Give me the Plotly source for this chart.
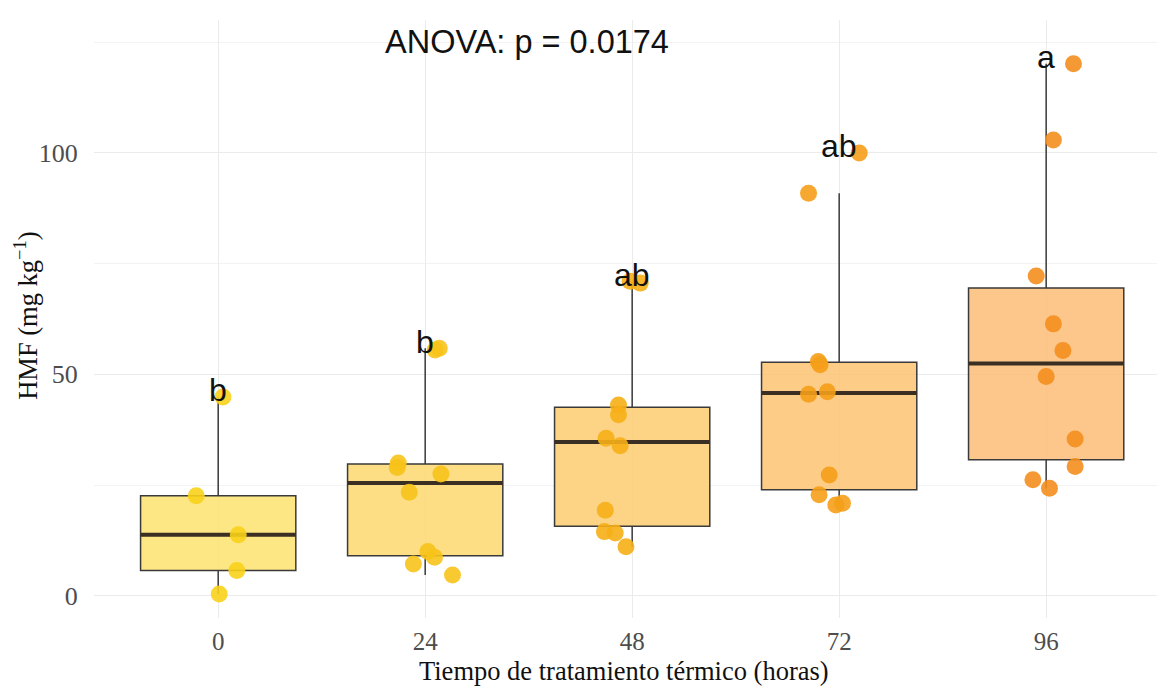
import numpy as np
import plotly.graph_objects as go

# ---- data ----
categories = ["0", "24", "48", "72", "96"]
hmf_0 = [44.9, 22.6, 13.8, 5.7, 0.4]
hmf_24 = [55.5, 55.9, 30.0, 29.0, 27.5, 23.4, 10.0, 8.7, 7.2, 4.7]
hmf_48 = [71.0, 70.6, 43.1, 40.9, 35.6, 33.9, 19.3, 14.5, 14.2, 11.1]
hmf_72 = [100.0, 90.9, 52.9, 52.2, 45.5, 46.1, 27.3, 22.8, 20.5, 20.9]
hmf_96 = [120.1, 102.9, 72.2, 61.4, 55.4, 49.5, 35.4, 29.2, 26.2, 24.3]
# horizontal jitter (category units)
jit_0 = [0.023, -0.106, 0.097, 0.090, 0.005]
jit_24 = [0.048, 0.068, -0.130, -0.135, 0.076, -0.077, 0.013, 0.045, -0.057, 0.132]
jit_48 = [-0.010, 0.039, -0.066, -0.066, -0.126, -0.058, -0.130, -0.134, -0.082, -0.030]
jit_72 = [0.097, -0.148, -0.101, -0.092, -0.148, -0.057, -0.048, -0.097, -0.016, 0.016]
jit_96 = [0.132, 0.035, -0.048, 0.035, 0.081, 0.0, 0.140, 0.140, -0.064, 0.016]
letters = ["b", "b", "ab", "ab", "a"]
anova_text = "ANOVA: p = 0.0174"
x_title = "Tiempo de tratamiento térmico (horas)"
y_title = "HMF (mg kg<sup>−1</sup>)"

groups = [hmf_0, hmf_24, hmf_48, hmf_72, hmf_96]
jitters = [jit_0, jit_24, jit_48, jit_72, jit_96]

box_fill = ["rgba(253,226,110,0.85)", "rgba(253,216,112,0.85)", "rgba(253,205,112,0.85)",
            "rgba(253,196,115,0.85)", "rgba(253,188,118,0.85)"]
pt_color = ["#F8D21A", "#F7C319", "#F6AF16", "#F59F1A", "#F48E1E"]

fig = go.Figure()
halfw = 0.375
for i, vals in enumerate(groups):
    v = np.array(vals)
    q1, med, q3 = np.percentile(v, [25, 50, 75])
    iqr = q3 - q1
    lo = v[v >= q1 - 1.5 * iqr].min()
    hi = v[v <= q3 + 1.5 * iqr].max()
    fig.add_trace(go.Box(
        x=[i], q1=[q1], median=[med], q3=[q3], lowerfence=[lo], upperfence=[hi],
        fillcolor=box_fill[i], line=dict(color="#3a3a3a", width=1.5),
        whiskerwidth=0, width=2 * halfw, boxpoints=False, showlegend=False,
        hoverinfo="skip"))
    fig.add_trace(go.Scatter(
        x=[i - halfw, i + halfw], y=[med, med], mode="lines",
        line=dict(color="#3b2e22", width=4), showlegend=False, hoverinfo="skip"))

for i, vals in enumerate(groups):
    xs = [i + j for j in jitters[i]]
    fig.add_trace(go.Scatter(
        x=xs, y=vals, mode="markers",
        marker=dict(size=17, color=pt_color[i], opacity=0.9, line=dict(width=0)),
        showlegend=False))

for i, vals in enumerate(groups):
    fig.add_annotation(x=i, y=max(vals) + 1.5, text=letters[i], showarrow=False,
                       font=dict(family="Liberation Sans, Arial", size=32, color="#111111"),
                       yanchor="middle")

fig.add_annotation(x=1.49, y=125.1, text=anova_text, showarrow=False,
                   font=dict(family="Liberation Sans, Arial", size=32.5, color="#111111"),
                   yanchor="middle", xanchor="center")

# axis titles
fig.add_annotation(x=0.497, y=-0.088, xref="paper", yref="paper", text=x_title,
                   showarrow=False, xanchor="center", yanchor="middle",
                   font=dict(family="Liberation Serif, Times New Roman", size=26.5, color="#111111"))
fig.add_annotation(x=-0.064, y=0.505, xref="paper", yref="paper", text=y_title,
                   showarrow=False, xanchor="center", yanchor="middle", textangle=-90,
                   font=dict(family="Liberation Serif, Times New Roman", size=26.5, color="#111111"))

fig.update_layout(
    width=1157, height=681,
    margin=dict(l=86, r=5, t=12, b=71),
    paper_bgcolor="white", plot_bgcolor="white",
    font=dict(family="Liberation Serif, Times New Roman", color="#4d4d4d"),
    xaxis=dict(
        tickmode="array", tickvals=list(range(5)), ticktext=categories,
        range=[-0.6, 4.55], showgrid=True, gridcolor="#ebebeb", gridwidth=1,
        zeroline=False, showline=False, automargin=False,
        ticks="outside", ticklen=1, tickcolor="rgba(0,0,0,0)",
        tickfont=dict(size=25, color="#4d4d4d")),
    yaxis=dict(
        range=[-5, 130], tickvals=[0, 50, 100], showgrid=True, gridcolor="#ebebeb",
        zeroline=False, showline=False, automargin=False,
        ticks="outside", ticklen=10, tickcolor="rgba(0,0,0,0)",
        minor=dict(tickvals=[25, 75, 125], showgrid=True, gridcolor="#f3f3f3", ticklen=0),
        tickfont=dict(size=26, color="#4d4d4d")),
)

fig.write_html("out.html")
